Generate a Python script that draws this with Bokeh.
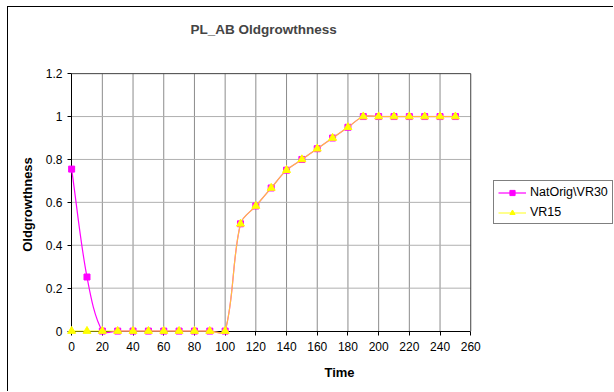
import numpy as np
from bokeh.plotting import figure
from bokeh.models import (Legend, LegendItem, FixedTicker, CustomJSTickFormatter, Range1d,
                          Title, InlineStyleSheet, LinearAxis)
from bokeh.embed import file_html
from bokeh.resources import INLINE

# ---- data ----
time = [0, 10, 20, 30, 40, 50, 60, 70, 80, 90, 100, 110, 120, 130, 140, 150,
        160, 170, 180, 190, 200, 210, 220, 230, 240, 250]
natorig_vr30 = [0.755, 0.252, 0, 0, 0, 0, 0, 0, 0, 0, 0, 0.5, 0.583, 0.667, 0.75,
                0.8, 0.85, 0.9, 0.95, 1, 1, 1, 1, 1, 1, 1]
vr15 = [0, 0, 0, 0, 0, 0, 0, 0, 0, 0, 0, 0.5, 0.583, 0.667, 0.75,
        0.8, 0.85, 0.9, 0.95, 1, 1, 1, 1, 1, 1, 1]
x_ticks = [0, 20, 40, 60, 80, 100, 120, 140, 160, 180, 200, 220, 240, 260]
y_ticks = [0, 0.2, 0.4, 0.6, 0.8, 1.0, 1.2]
series_names = ["NatOrig\\VR30", "VR15"]
title_text = "PL_AB Oldgrowthness"
x_title = "Time"
y_title = "Oldgrowthness"

FONT = "Liberation Sans"
XMIN, XMAX = x_ticks[0], x_ticks[-1]
YMIN, YMAX = y_ticks[0], y_ticks[-1]
PLOT_W, PLOT_H = 400.0, 257.0   # size of the 0..260 x 0..1.2 plot area, for smoothing


def smooth_segments(xs, ys):
    """Bezier control points of an Excel-like smoothed line through the data points
    (chord-length weighted tangents, measured in plot-area proportions)."""
    x = np.asarray(xs, float)
    y = np.asarray(ys, float)
    n = len(x)
    xp = np.concatenate([[x[0]], x, [x[-1]]])
    yp = np.concatenate([[y[0]], y, [y[-1]]])
    sx = PLOT_W / (XMAX - XMIN)
    sy = PLOT_H / (YMAX - YMIN)
    d = np.hypot(np.diff(xp) * sx, np.diff(yp) * sy)  # d[k] = |P'_{k+1}-P'_k|
    tx = xp[2:] - xp[:-2]
    ty = yp[2:] - yp[:-2]
    d_in = d[:-1]
    d_out = d[1:]
    tot = d_in + d_out
    tot[tot == 0] = 1.0
    w_out = d_out / tot / 3.0
    w_in = d_in / tot / 3.0
    cox = x + tx * w_out
    coy = y + ty * w_out
    cix = x - tx * w_in
    ciy = y - ty * w_in
    return dict(x0=x[:-1], y0=y[:-1], x1=x[1:], y1=y[1:],
                cx0=cox[:-1], cy0=coy[:-1], cx1=cix[1:], cy1=ciy[1:])


# the frame also spans the legend area on the right; axes and grid stay bounded to 0..260
p = figure(width=606, height=385, output_backend="svg", toolbar_location=None,
           x_range=Range1d(XMIN - 4, 353), y_range=Range1d(YMIN - 0.03, YMAX + 0.01),
           min_border_left=57, min_border_right=1, min_border_top=64,
           min_border_bottom=55)

# title (outer) + spacer (inner)
p.title.text = title_text
p.title.text_font = FONT
p.title.text_font_size = "13.5px"
p.title.text_font_style = "bold"
p.title.align = "left"
p.title.offset = 125
p.title.standoff = 10
spacer = Title(text=" ", text_font_size="13.5px", standoff=13)
p.add_layout(spacer, "above")

p.background_fill_color = "white"
p.border_fill_color = "white"
p.outline_line_color = None
p.xgrid.visible = False
p.ygrid.visible = False

# grid lines and plot-area border, bounded to the axis ranges
gx = p.segment(x0=x_ticks[1:-1], y0=[YMIN] * (len(x_ticks) - 2),
               x1=x_ticks[1:-1], y1=[YMAX] * (len(x_ticks) - 2),
               line_color="#8c8c8c", line_width=1, level="underlay")
gy = p.segment(x0=[XMIN] * (len(y_ticks) - 2), y0=y_ticks[1:-1],
               x1=[XMAX] * (len(y_ticks) - 2), y1=y_ticks[1:-1],
               line_color="#b0b0b0", line_width=1, level="underlay")
bd = p.segment(x0=[XMIN, XMAX], y0=[YMAX, YMIN], x1=[XMAX, XMAX], y1=[YMAX, YMAX],
               line_color="#404040", line_width=1, level="underlay")

# label axes (in the side panels): tick labels and axis titles only
for ax, ticks, bnds in ((p.xaxis[0], x_ticks, (XMIN, XMAX)), (p.yaxis[0], y_ticks, (YMIN, YMAX))):
    ax.ticker = FixedTicker(ticks=ticks)
    ax.bounds = bnds
    ax.axis_line_color = None
    ax.major_tick_line_color = None
    ax.major_tick_out = 0
    ax.major_tick_in = 0
    ax.minor_tick_line_color = None
    ax.major_label_text_font = FONT
    ax.major_label_text_font_size = "12px"
    ax.major_label_text_color = "black"
    ax.axis_label_text_font = FONT
    ax.axis_label_text_font_size = "13px"
    ax.axis_label_text_font_style = "bold"
    ax.axis_label_text_color = "black"

p.yaxis.formatter = CustomJSTickFormatter(code="return (Math.round(tick*10)/10).toString();")
p.xaxis.axis_label = x_title
p.yaxis.axis_label = y_title
p.xaxis.major_label_standoff = 4
p.xaxis.axis_label_standoff = 11
p.yaxis.major_label_standoff = 3
p.yaxis.axis_label_standoff = 8

# rule axes fixed at 0: axis line and outward ticks only
for side, ticks, bnds in (("below", x_ticks, (XMIN, XMAX)), ("left", y_ticks, (YMIN, YMAX))):
    rule = LinearAxis(fixed_location=0, bounds=bnds, ticker=FixedTicker(ticks=ticks))
    rule.axis_line_color = "black"
    rule.major_tick_line_color = "black"
    rule.major_tick_out = 4
    rule.major_tick_in = 0
    rule.minor_tick_line_color = None
    rule.major_label_text_font_size = "1px"
    rule.major_label_text_color = None
    rule.major_label_standoff = 0
    p.add_layout(rule, side)

s1 = smooth_segments(time, natorig_vr30)
s2 = smooth_segments(time, vr15)

l1 = p.bezier(x0="x0", y0="y0", x1="x1", y1="y1", cx0="cx0", cy0="cy0",
              cx1="cx1", cy1="cy1", source=s1, line_color="#ff00ff", line_width=1.2,
              level="annotation")
m1 = p.scatter(time, natorig_vr30, marker="square", size=6, fill_color="#ff00ff",
               line_color="#ff00ff", level="annotation")
l2 = p.bezier(x0="x0", y0="y0", x1="x1", y1="y1", cx0="cx0", cy0="cy0",
              cx1="cx1", cy1="cy1", source=s2, line_color="#ffff00", line_width=1.2,
              line_alpha=0.75, level="annotation")
m2 = p.scatter(time, vr15, marker="triangle", size=8, fill_color="#ffff00",
               line_color="#ffff00", level="annotation")

legend = Legend(items=[LegendItem(label=series_names[0], renderers=[l1, m1]),
                       LegendItem(label=series_names[1], renderers=[l2, m2])],
                location=(428, 113))
legend.border_line_color = "black"
legend.border_line_width = 1
legend.background_fill_color = "white"
legend.background_fill_alpha = 1
legend.label_text_font = FONT
legend.label_text_font_size = "12.5px"
legend.label_text_color = "black"
legend.glyph_width = 28
legend.glyph_height = 13
legend.label_height = 13
legend.label_standoff = 4
legend.spacing = 6
legend.padding = 4
legend.margin = 0
p.add_layout(legend, "center")

p.stylesheets = [InlineStyleSheet(css=":host { margin: 6px 0 0 7px !important; "
                                      "border-top: 1px solid #000 !important; "
                                      "border-left: 1px solid #000 !important; }")]

open("out.html", "w").write(file_html(p, INLINE))
